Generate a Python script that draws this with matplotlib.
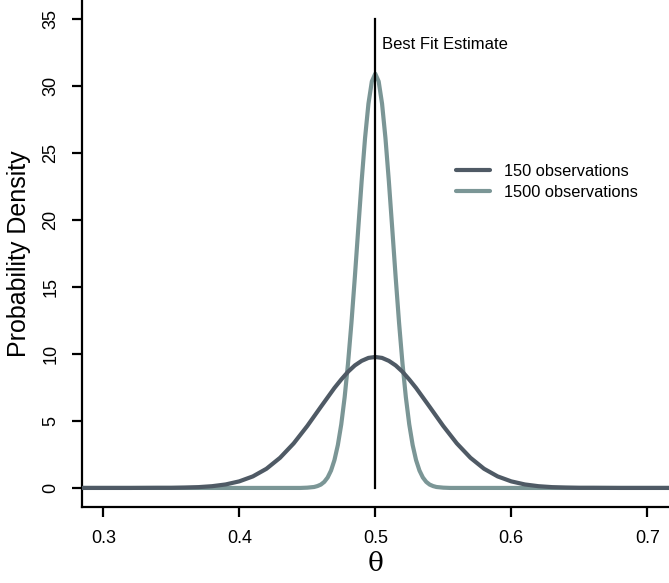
import matplotlib
matplotlib.use("Agg")
import matplotlib.pyplot as plt

plt.rcParams['font.family'] = ['Liberation Sans', 'DejaVu Sans']

# ---- data ----
x_150 = [0.25, 0.30, 0.32, 0.34, 0.35, 0.36, 0.37, 0.38, 0.39, 0.40, 0.41, 0.42,
         0.43, 0.44, 0.45, 0.46, 0.47, 0.475, 0.48, 0.485, 0.49, 0.495, 0.50,
         0.505, 0.51, 0.515, 0.52, 0.525, 0.53, 0.54, 0.55, 0.56, 0.57, 0.58,
         0.59, 0.60, 0.61, 0.62, 0.63, 0.64, 0.65, 0.66, 0.68, 0.70, 0.75]
y_150 = [0.00, 0.00, 0.00, 0.01, 0.01, 0.03, 0.06, 0.13, 0.26, 0.49, 0.86, 1.43,
         2.25, 3.32, 4.62, 6.05, 7.46, 8.09, 8.67, 9.14, 9.48, 9.70, 9.77,
         9.70, 9.48, 9.14, 8.67, 8.09, 7.46, 6.05, 4.62, 3.32, 2.25, 1.43,
         0.86, 0.49, 0.26, 0.13, 0.06, 0.03, 0.01, 0.01, 0.00, 0.00, 0.00]

x_1500 = [0.25, 0.40, 0.44, 0.445, 0.45, 0.455, 0.4575, 0.46, 0.4625, 0.465,
          0.4675, 0.47, 0.4725, 0.475, 0.4775, 0.48, 0.4825, 0.485, 0.4875,
          0.49, 0.4925, 0.495, 0.4975, 0.50, 0.5025, 0.505, 0.5075, 0.51,
          0.5125, 0.515, 0.5175, 0.52, 0.5225, 0.525, 0.5275, 0.53, 0.5325,
          0.535, 0.5375, 0.54, 0.5425, 0.545, 0.55, 0.555, 0.56, 0.60, 0.75]
y_1500 = [0.00, 0.00, 0.00, 0.00, 0.02, 0.07, 0.14, 0.25, 0.45, 0.78,
          1.30, 2.08, 3.20, 4.74, 6.77, 9.31, 12.33, 15.73, 19.34,
          22.89, 26.10, 28.67, 30.33, 30.90, 30.33, 28.67, 26.10, 22.89,
          19.34, 15.73, 12.33, 9.31, 6.77, 4.74, 3.20, 2.08, 1.30,
          0.78, 0.45, 0.25, 0.14, 0.07, 0.02, 0.00, 0.00, 0.00, 0.00]

series_labels = ["150 observations", "1500 observations"]
best_fit = 0.5
best_fit_top = 35
x_ticks = [0.3, 0.4, 0.5, 0.6, 0.7]
y_ticks = [0, 5, 10, 15, 20, 25, 30, 35]

col_dark = "#4f5a65"
col_light = "#7b9696"

fig = plt.figure(figsize=(6.69, 5.83), dpi=100)
ax = fig.add_axes([81.5 / 669, (583 - 506.7) / 583, 1 - 81.5 / 669, 506.7 / 583])

ax.plot(x_1500, y_1500, color=col_light, lw=3.0, solid_capstyle='round',
        solid_joinstyle='round', label=series_labels[1], zorder=2)
ax.plot(x_150, y_150, color=col_dark, lw=3.0, solid_capstyle='round',
        solid_joinstyle='round', label=series_labels[0], zorder=3)
ax.plot([best_fit, best_fit], [0, best_fit_top], color='black', lw=1.6, zorder=4)
ax.annotate("Best Fit Estimate", xy=(best_fit, 33.1), xytext=(5, 0),
            textcoords='offset points', ha='left', va='center', fontsize=12)

ax.set_xlim(0.284, 0.716)
ax.set_ylim(-1.4, 36.4)

for s in ['top', 'right']:
    ax.spines[s].set_visible(False)
for s in ['left', 'bottom']:
    ax.spines[s].set_linewidth(1.6)

ax.set_xticks(x_ticks)
ax.set_xticklabels([f"{v:.1f}" for v in x_ticks], fontsize=13)
ax.set_yticks(y_ticks)
ax.set_yticklabels([str(v) for v in y_ticks], fontsize=13, rotation=90, va='center')
ax.tick_params(axis='both', direction='out', length=7, width=1.6)
ax.tick_params(axis='x', pad=10)
ax.tick_params(axis='y', pad=9)

ax.set_xlabel("θ", fontsize=19, family='DejaVu Serif', labelpad=3)
ax.set_ylabel("Probability Density", fontsize=18, labelpad=8)

handles, labels = ax.get_legend_handles_labels()
leg = ax.legend(handles[::-1], labels[::-1], loc='center left',
                bbox_to_anchor=(0.637, 0.641), frameon=False, fontsize=11.8,
                handlelength=2.1, handletextpad=0.85, labelspacing=0.35,
                borderpad=0, borderaxespad=0)

fig.savefig("out.png", dpi=100)
